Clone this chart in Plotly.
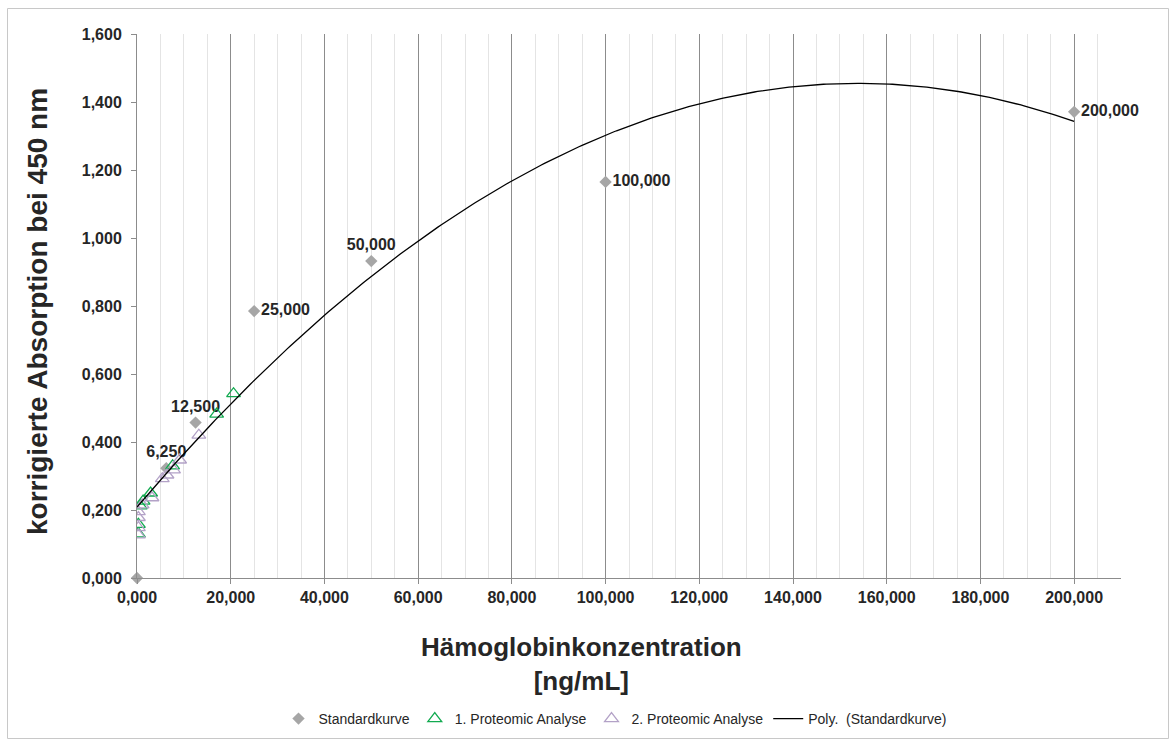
import numpy as np
import plotly.graph_objects as go

# Standard curve
std_x = [0, 6250, 12500, 25000, 50000, 100000, 200000]
std_y = [0.000, 0.323, 0.457, 0.785, 0.932, 1.165, 1.371]
std_labels = ["", "6,250", "12,500", "25,000", "50,000", "100,000", "200,000"]
std_label_pos = ["top center", "top center", "top center", "middle right",
                 "top center", "middle right", "middle right"]

# 1. Proteomic Analyse
p1_x = [300, 300, 700, 1300, 2900, 7600, 17000, 20600]
p1_y = [0.130, 0.158, 0.212, 0.226, 0.250, 0.330, 0.482, 0.542]

# 2. Proteomic Analyse
p2_x = [300, 300, 300, 300, 1100, 3200, 5400, 6400, 7800, 9100, 13200]
p2_y = [0.127, 0.148, 0.178, 0.195, 0.215, 0.236, 0.292, 0.303, 0.318, 0.347, 0.420]

# axis ticks
x_ticks = [0, 20000, 40000, 60000, 80000, 100000, 120000, 140000, 160000, 180000, 200000]
x_ticktext = ["0,000", "20,000", "40,000", "60,000", "80,000", "100,000",
              "120,000", "140,000", "160,000", "180,000", "200,000"]
y_ticks = [0, 0.2, 0.4, 0.6, 0.8, 1.0, 1.2, 1.4, 1.6]
y_ticktext = ["0,000", "0,200", "0,400", "0,600", "0,800", "1,000", "1,200", "1,400", "1,600"]

# polynomial trendline (order 2) fitted to the standard curve
coef = np.polyfit(std_x, std_y, 2)
trend_x = np.linspace(0, 200000, 300)
trend_y = np.polyval(coef, trend_x)

FONT = "Liberation Sans, Arial, sans-serif"
TXT = "#262626"

fig = go.Figure()
fig.add_trace(go.Scatter(
    x=std_x, y=std_y, mode="markers+text", name="Standardkurve",
    marker=dict(symbol="diamond", size=9.5, color="#a6a6a6"),
    text=std_labels, textposition=std_label_pos,
    textfont=dict(family=FONT, size=16, color=TXT, weight="bold"),
    cliponaxis=False,
))
fig.add_trace(go.Scatter(
    x=p1_x, y=p1_y, mode="markers", name="1. Proteomic Analyse",
    marker=dict(symbol="triangle-up-open", size=12, color="#12aa50",
                line=dict(width=1.3, color="#12aa50")),
))
fig.add_trace(go.Scatter(
    x=p2_x, y=p2_y, mode="markers", name="2. Proteomic Analyse",
    marker=dict(symbol="triangle-up-open", size=12, color="#b3a2c7",
                line=dict(width=1.3, color="#b3a2c7")),
))
fig.add_trace(go.Scatter(
    x=trend_x, y=trend_y, mode="lines", name="Poly.\u00a0 (Standardkurve)",
    line=dict(color="#000000", width=1.3),
))

L, R, T, B = 137, 55, 34, 169
W, H = 1176, 747
pw = W - L - R
ph = H - T - B

def px(X):
    return (X - L) / pw

def py(Y):
    return (H - B - Y) / ph

fig.update_layout(
    width=W, height=H,
    margin=dict(l=L, r=R, t=T, b=B),
    paper_bgcolor="white", plot_bgcolor="white",
    font=dict(family=FONT, color=TXT),
    showlegend=True,
    legend=dict(orientation="h", x=px(615), y=py(719), xanchor="center", yanchor="middle",
                font=dict(family=FONT, size=14, color=TXT), itemwidth=30,
                tracegroupgap=0, bgcolor="rgba(0,0,0,0)"),
    xaxis=dict(
        range=[0, 210000], tickvals=x_ticks, ticktext=x_ticktext,
        tickfont=dict(family=FONT, size=16, color=TXT, weight="bold"),
        showgrid=True, gridcolor="#8c8c8c", gridwidth=1,
        minor=dict(dtick=5000, tick0=0, showgrid=True, gridcolor="#e4e4e4", gridwidth=1),
        showline=True, linecolor="#8c8c8c", linewidth=1,
        ticks="outside", ticklen=5, tickcolor="#8c8c8c",
        zeroline=False, fixedrange=True,
    ),
    yaxis=dict(
        range=[0, 1.6], tickvals=y_ticks, ticktext=y_ticktext,
        tickfont=dict(family=FONT, size=16, color=TXT, weight="bold"),
        showgrid=False, ticklabelstandoff=6,
        showline=True, linecolor="#8c8c8c", linewidth=1,
        ticks="outside", ticklen=5, tickcolor="#8c8c8c",
        zeroline=False, fixedrange=True,
    ),
    annotations=[
        dict(text="korrigierte Absorption bei 450 nm", textangle=-90,
             xref="paper", yref="paper", x=px(37), y=py(312),
             xanchor="center", yanchor="middle", showarrow=False,
             font=dict(family=FONT, size=28, color=TXT, weight="bold")),
        dict(text="Hämoglobinkonzentration<br>[ng/mL]",
             xref="paper", yref="paper", x=px(581), y=py(664),
             xanchor="center", yanchor="middle", showarrow=False,
             font=dict(family=FONT, size=26, color=TXT, weight="bold")),
    ],
    shapes=[
        dict(type="rect", xref="paper", yref="paper",
             x0=px(7.5), x1=px(1168.5), y0=py(738.5), y1=py(8.5),
             line=dict(color="#c8c8c8", width=1), layer="below"),
    ],
)

fig.write_html("out.html")
